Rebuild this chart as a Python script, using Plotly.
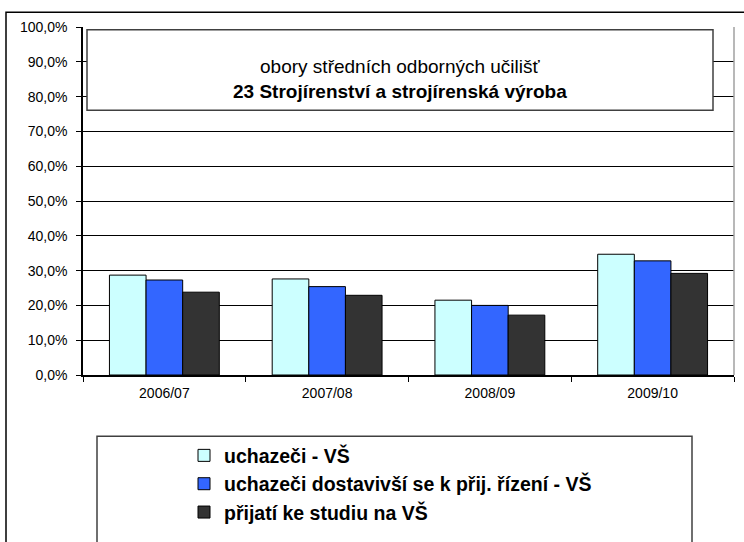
import plotly.graph_objects as go

years = ["2006/07", "2007/08", "2008/09", "2009/10"]
applicants = [0.287, 0.276, 0.215, 0.347]
attended = [0.273, 0.254, 0.200, 0.328]
admitted = [0.238, 0.229, 0.172, 0.292]

series_names = [
    "uchazeči - VŠ",
    "uchazeči dostavivší se k přij. řízení - VŠ",
    "přijatí ke studiu na VŠ",
]
series_colors = ["#CCFFFF", "#3366FF", "#333333"]

title_lines = ["obory středních odborných učilišť", "23 Strojírenství a strojírenská výroba"]

FONT = "Liberation Sans, Arial, sans-serif"

# page geometry (pixels) -> paper coords
W, H = 744, 542
ML, MR, MT, MB = 83, 10, 27, 151
PW, PH = W - ML - MR, H - MT - MB


def px(x):
    return (x - ML) / PW


def py(y):
    return (H - MB - y) / PH


fig = go.Figure()
for name, vals, col in zip(series_names, [applicants, attended, admitted], series_colors):
    fig.add_trace(
        go.Bar(
            x=years,
            y=vals,
            name=name,
            marker=dict(color=col, line=dict(color="#000000", width=1)),
        )
    )

shapes = [
    # plot area border (right, grey)
    dict(type="line", xref="paper", yref="paper", x0=1, x1=1, y0=0, y1=1,
         line=dict(color="#A0A0A0", width=1.5)),
    # title box
    dict(type="rect", xref="paper", yref="paper", x0=px(87), x1=px(713), y0=py(114), y1=py(30),
         fillcolor="white", line=dict(color="#404040", width=1.5), layer="above"),
    # legend box
    dict(type="rect", xref="paper", yref="paper", x0=px(97), x1=px(692), y0=py(570), y1=py(455),
         fillcolor="rgba(0,0,0,0)", line=dict(color="#404040", width=1.5)),
    # outer chart border
    dict(type="rect", xref="paper", yref="paper", x0=px(6), x1=px(770), y0=py(570), y1=py(11.5),
         fillcolor="rgba(0,0,0,0)", line=dict(color="#000000", width=1.5)),
]

fig.update_layout(
    width=W,
    height=H,
    margin=dict(l=ML, r=MR, t=MT, b=MB),
    paper_bgcolor="white",
    plot_bgcolor="white",
    separators=",.",
    barmode="group",
    bargap=0.325,
    bargroupgap=0,
    font=dict(family=FONT, color="#000000", size=14),
    shapes=shapes,
    annotations=[
        dict(
            text=f"{title_lines[0]}<br><b>{title_lines[1]}</b>",
            xref="paper", yref="paper", x=px(400), y=py(81),
            xanchor="center", yanchor="middle", showarrow=False,
            font=dict(family=FONT, size=19, color="#000000"),
        )
    ],
    legend=dict(
        x=px(184), y=py(455), xanchor="left", yanchor="top",
        bgcolor="rgba(0,0,0,0)", borderwidth=0,
        font=dict(family=FONT, size=19.5, color="#000000", weight="bold"),
        traceorder="normal",
    ),
    showlegend=True,
)

fig.update_yaxes(
    range=[0, 1],
    dtick=0.1,
    tickformat=".1%",
    showgrid=True,
    gridcolor="#000000",
    gridwidth=1,
    showline=True,
    linecolor="#000000",
    linewidth=1.5,
    ticks="outside",
    ticklen=5,
    tickcolor="#000000",
    ticklabelstandoff=6,
    zeroline=False,
    tickfont=dict(size=14),
    fixedrange=True,
)
fig.update_xaxes(
    showline=True,
    linecolor="#000000",
    linewidth=1.5,
    ticks="outside",
    tickson="boundaries",
    ticklen=5,
    tickcolor="#000000",
    ticklabelstandoff=4,
    tickfont=dict(size=14),
    showgrid=False,
    fixedrange=True,
)

# drop the browser's default page margin so the figure sits at the window origin
fig.write_html(
    "out.html",
    post_script="document.body.style.margin='0';",
    config={"displayModeBar": False},
)
